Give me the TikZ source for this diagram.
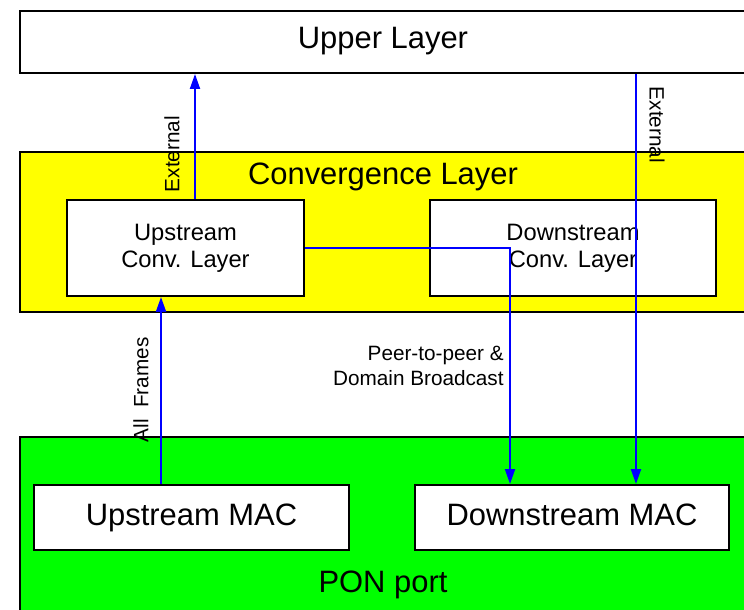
\documentclass[tikz,border=0pt]{standalone}
\usepackage{fontspec}
\setmainfont{Liberation Sans}
\usepackage{tikz}
\usetikzlibrary{arrows.meta}
\definecolor{convyellow}{RGB}{255,255,0}
\definecolor{pongreen}{RGB}{0,255,0}
\tikzset{
  layer/.style={rectangle,draw,line width=1.1pt,inner sep=0pt,minimum width=14.52cm,font=\fontsize{17.6}{21}\selectfont},
  big/.style={font=\fontsize{17.6}{21}\selectfont,inner sep=0pt},
  block/.style={rectangle,draw,fill=white,line width=1.1pt,inner sep=0pt,align=center},
  flow/.style={draw=blue,line width=1.1pt,-{Triangle[length=3mm,width=2mm]}},
  tag/.style={font=\fontsize{11.8}{14.6}\selectfont,inner sep=0pt}
}

\begin{document}
\begin{tikzpicture}[x=0.02cm,y=0.02cm]
    \useasboundingbox (0,0) rectangle (744,-609);
    \clip (0,0) rectangle (744,-609);

    % layers
    \node[layer,minimum height=1.24cm,text height=0.8em,text depth=0.1em] (upper) at (383,-42) {Upper Layer};
    \node[layer,fill=convyellow,minimum height=3.2cm] (conv) at (383,-232) {};
    \node[big] (convtext) at (383,-177) {Convergence Layer};
    \node[layer,fill=pongreen,minimum height=4.06cm] (pon) at (383,-538.5) {};
    \node[big] (pontext) at (383,-585) {PON port};

    % blocks
    \node[block,minimum width=4.74cm,minimum height=1.92cm,font=\fontsize{13.5}{15.4}\selectfont] (usconv) at (185.5,-248) {Upstream\\Conv. Layer};
    \node[block,minimum width=5.72cm,minimum height=1.92cm,font=\fontsize{13.5}{15.4}\selectfont] (dsconv) at (573,-248) {Downstream\\Conv. Layer};
    \node[block,minimum width=6.3cm,minimum height=1.3cm,font=\fontsize{17.6}{21}\selectfont,text height=0.9em,text depth=0em] (usmac) at (191.5,-517.5) {Upstream MAC};
    \node[block,minimum width=6.28cm,minimum height=1.3cm,font=\fontsize{17.6}{21}\selectfont,text height=0.9em,text depth=0em] (dsmac) at (572,-517.5) {Downstream MAC};

    \coordinate (ext1) at ([xshift=0.19cm]usconv.north);
    \coordinate (allf) at ([xshift=-0.61cm]usmac.north);
    \coordinate (ext2) at ([xshift=1.28cm]dsmac.north);
    \coordinate (p2p) at ([xshift=-1.24cm]dsmac.north);

    \draw[flow] (ext1) -- (ext1 |- upper.south);
    \draw[flow] (allf) -- (allf |- usconv.south);
    \draw[flow] (ext2 |- upper.south) -- (ext2);
    \draw[flow] (usconv.east) -| (p2p);

    % labels
    \node[tag,rotate=90] (extlabel1) at (172,-154) {External};
    \node[tag,rotate=-90] (extlabel2) at (657,-125) {External};
    \node[tag,rotate=90] (alllabel) at (141,-390) {All\ \ Frames};
    \node[tag,align=right,anchor=east] (p2plabel) at (504,-366) {Peer-to-peer \&\\Domain Broadcast};
\end{tikzpicture}
\end{document}
